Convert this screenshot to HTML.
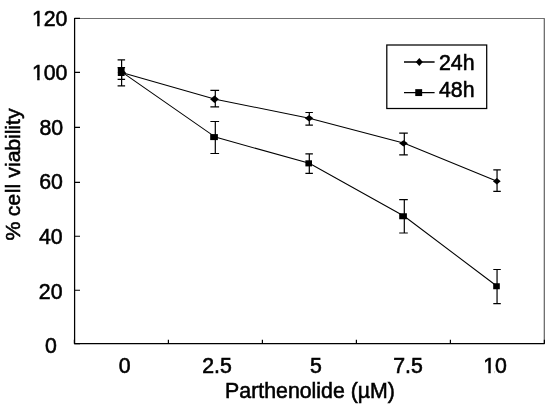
<!DOCTYPE html>
<html><head><meta charset="utf-8"><title>Chart</title>
<style>html,body{margin:0;padding:0;background:#fff;}svg{display:block;}</style></head>
<body>
<svg width="550" height="409" viewBox="0 0 550 409">
<rect width="550" height="409" fill="#fff"/>
<path d="M74.5 18.5H544.4" fill="none" stroke="#707070" stroke-width="1"/>
<path d="M544.3 18.2V343.7" fill="none" stroke="#606060" stroke-width="1.2"/>
<path d="M74.6 17.9V343.7H544.6" fill="none" stroke="#000" stroke-width="1.25"/>
<path d="M74.5 343.70H80M74.5 290.20H80M74.5 236.30H80M74.5 182.40H80M74.5 127.40H80M74.5 72.40H80M74.5 18.40H80" stroke="#000" stroke-width="1.1" fill="none"/>
<path d="M74.4 343.7V339.8M168.4 343.7V339.8M262.4 343.7V339.8M356.4 343.7V339.8M450.4 343.7V339.8M544.4 343.7V339.8" stroke="#000" stroke-width="1.2" fill="none"/>
<polyline points="121.6,72.4 215.3,99.25 309.3,118.2 404.3,143.3 497.05,181.2" fill="none" stroke="#000" stroke-width="1.05"/>
<polyline points="121.6,71.85 215.3,137.1 309.3,163.35 404.3,216.25 497.05,286.25" fill="none" stroke="#000" stroke-width="1.05"/>
<g stroke="#000" stroke-width="1.2" fill="none">
<path d="M121.6 67.7V79.3M117.6 67.7H125.1M117.6 79.3H125.1"/>
<path d="M215.3 90.4V106.8M210.4 90.4H219.1M210.4 106.8H219.1"/>
<path d="M309.3 112.5V125.1M305.4 112.5H312.9M305.4 125.1H312.9"/>
<path d="M404.3 133.1V154.9M399.2 133.1H407.8M399.2 154.9H407.8"/>
<path d="M497.05 169.9V191.4M493.3 169.9H500.8M493.3 191.4H500.8"/>

<path d="M121.6 59.9V85.9M117.6 59.9H125.1M117.6 85.9H125.1"/>
<path d="M215.3 121.5V153.5M210.4 121.5H219.1M210.4 153.5H219.1"/>
<path d="M309.3 153.8V173.3M305.4 153.8H312.9M305.4 173.3H312.9"/>
<path d="M404.3 199.6V233.0M399.2 199.6H407.8M399.2 233.0H407.8"/>
<path d="M497.05 269.5V303.7M493.3 269.5H500.8M493.3 303.7H500.8"/>

</g>
<g fill="#000">
<path d="M121.8 69.10L126.00 72.4L121.8 75.70L117.60 72.4Z"/>
<path d="M214.5 95.55L218.90 99.25L214.5 102.95L210.10 99.25Z"/>
<path d="M309.1 115.00L313.40 118.2L309.1 121.40L304.80 118.2Z"/>
<path d="M403.5 140.20L407.90 143.3L403.5 146.40L399.10 143.3Z"/>
<path d="M496.8 177.90L500.70 181.2L496.8 184.50L492.90 181.2Z"/>
<rect x="117.80" y="67.70" width="6.80" height="8.30"/>
<rect x="210.20" y="134.10" width="7.70" height="6.00"/>
<rect x="305.40" y="160.30" width="6.60" height="6.10"/>
<rect x="399.20" y="213.25" width="7.70" height="6.00"/>
<rect x="493.20" y="283.25" width="6.60" height="6.00"/>
</g>
<rect x="386.8" y="45" width="99.9" height="63.5" fill="#fff" stroke="#000" stroke-width="1.25"/>
<path d="M404 62H434.6M404 92.6H434.6" stroke="#000" stroke-width="1.3"/>
<path d="M419.3 58.10L422.80 62L419.3 65.90L415.80 62Z"/>
<rect x="415.25" y="89.15" width="6.90" height="6.90"/>
<g font-family="'Liberation Sans', sans-serif" font-size="21.33px" fill="#000" stroke="#000" stroke-width="0.55">
<text transform="translate(439.0 70.2) scale(1 1.055)" text-anchor="start">24h</text>
<text transform="translate(439.0 97.3) scale(1 1.055)" text-anchor="start">48h</text>
<text transform="translate(51.0 352.9) scale(1 1.055)" text-anchor="middle">0</text>
<text transform="translate(50.7 299.3) scale(1 1.055)" text-anchor="middle">20</text>
<text transform="translate(50.8 244.2) scale(1 1.055)" text-anchor="middle">40</text>
<text transform="translate(51.1 189.2) scale(1 1.055)" text-anchor="middle">60</text>
<text transform="translate(51.3 135.1) scale(1 1.055)" text-anchor="middle">80</text>
<text transform="translate(49.7 79.5) scale(1 1.055)" text-anchor="middle">100</text>
<text transform="translate(49.7 25.7) scale(1 1.055)" text-anchor="middle">120</text>
<text transform="translate(124.7 373.3) scale(1 1.055)" text-anchor="middle">0</text>
<text transform="translate(217 373.3) scale(1 1.055)" text-anchor="middle">2.5</text>
<text transform="translate(315.9 373.3) scale(1 1.055)" text-anchor="middle">5</text>
<text transform="translate(408 373.3) scale(1 1.055)" text-anchor="middle">7.5</text>
<text transform="translate(495 373.3) scale(1 1.055)" text-anchor="middle">10</text>
<text transform="translate(310 398.4) scale(1 1.055)" text-anchor="middle">Parthenolide (µM)</text>
<text transform="translate(20.3 240.6) rotate(-90) scale(1 0.98)" text-anchor="start" dx="0 0 -0.6 0 0.6 0 0 0 0 0 -0.3 -0.1 -0.1 -0.1 -0.1 0">% cell viability</text>
</g>
<path fill="#fff" d="M32.5 23.5H37.17V27.2H32.5ZM39.62 23.5H43V27.2H39.62ZM32.5 77.5H37.17V81.2H32.5ZM39.62 77.5H43V81.2H39.62ZM483.5 370.5H488.28V374.2H483.5ZM490.76 370.5H494.6V374.2H490.76Z"/>
</svg>
</body></html>
